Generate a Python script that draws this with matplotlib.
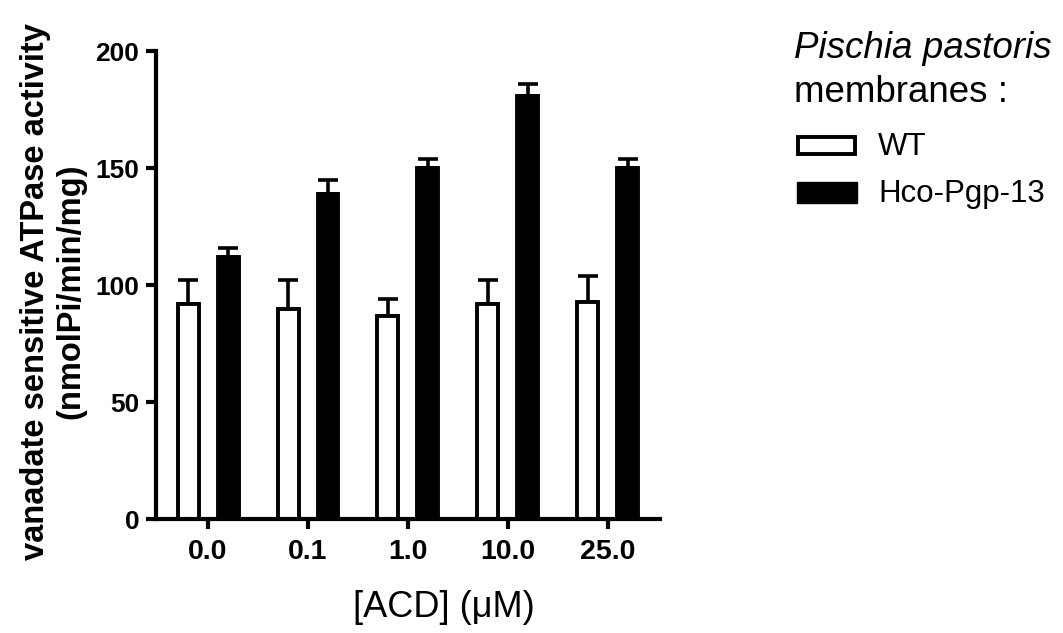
import matplotlib.pyplot as plt
import numpy as np
from matplotlib.patches import Rectangle

plt.rcParams["font.family"] = ["Liberation Sans", "DejaVu Sans"]

concentrations = ["0.0", "0.1", "1.0", "10.0", "25.0"]
wt_mean = [92, 90, 87, 92, 93]
wt_err = [10, 12, 7, 10, 11]
hco_mean = [112, 139, 150, 181, 150]
hco_err = [4, 6, 4, 5, 4]
y_ticks = [0, 50, 100, 150, 200]

fig = plt.figure(figsize=(10.63, 6.33), dpi=100)
ax = fig.add_axes([0.1468, 0.180, 0.474, 0.739])

x = np.arange(len(concentrations))
w = 0.21
off = 0.2
lw = 2.8

ax.bar(x - off, wt_mean, width=w, color="white", edgecolor="black", linewidth=lw, zorder=2)
ax.bar(x + off, hco_mean, width=w, color="black", edgecolor="black", linewidth=lw, zorder=2)
ax.errorbar(x - off, wt_mean, yerr=[np.zeros(len(x)), wt_err], fmt="none",
            ecolor="black", elinewidth=2.6, capsize=7, capthick=2.6, zorder=1)
ax.errorbar(x + off, hco_mean, yerr=[np.zeros(len(x)), hco_err], fmt="none",
            ecolor="black", elinewidth=2.6, capsize=7, capthick=2.6, zorder=1)

ax.set_xlim(-0.52, 4.52)
ax.set_ylim(0, 200)
ax.set_yticks(y_ticks)
ax.set_xticks(x)
ax.set_xticklabels(concentrations)
for s in ["top", "right"]:
    ax.spines[s].set_visible(False)
for s in ["left", "bottom"]:
    ax.spines[s].set_linewidth(3)
ax.tick_params(width=3, length=7, direction="out", labelsize=19)
ax.tick_params(axis="x", pad=7, labelsize=20.5)
ax.tick_params(axis="y", pad=5)
for lab in ax.get_xticklabels() + ax.get_yticklabels():
    lab.set_fontweight("bold")

fig.text(0.033, 0.54, "vanadate sensitive ATPase activity", rotation=90,
         ha="center", va="center", fontsize=23.5, fontweight="bold")
fig.text(0.067, 0.54, "(nmolPi/min/mg)", rotation=90,
         ha="center", va="center", fontsize=23.5, fontweight="bold")
fig.text(0.418, 0.041, "[ACD] (μM)", ha="center", va="center", fontsize=26)

# legend drawn by hand
fig.text(0.747, 0.908, "Pischia pastoris", style="italic", fontsize=26.5, ha="left", va="baseline")
fig.text(0.747, 0.839, "membranes :", fontsize=26.5, ha="left", va="baseline")
fig.patches.append(Rectangle((0.751, 0.756), 0.053, 0.027, transform=fig.transFigure,
                             facecolor="white", edgecolor="black", linewidth=2.8))
fig.patches.append(Rectangle((0.750, 0.679), 0.056, 0.033, transform=fig.transFigure,
                             facecolor="black", edgecolor="black", linewidth=1))
fig.text(0.826, 0.755, "WT", fontsize=22.5, ha="left", va="baseline")
fig.text(0.826, 0.681, "Hco-Pgp-13", fontsize=22.5, ha="left", va="baseline")

fig.savefig("out.png", dpi=100)
